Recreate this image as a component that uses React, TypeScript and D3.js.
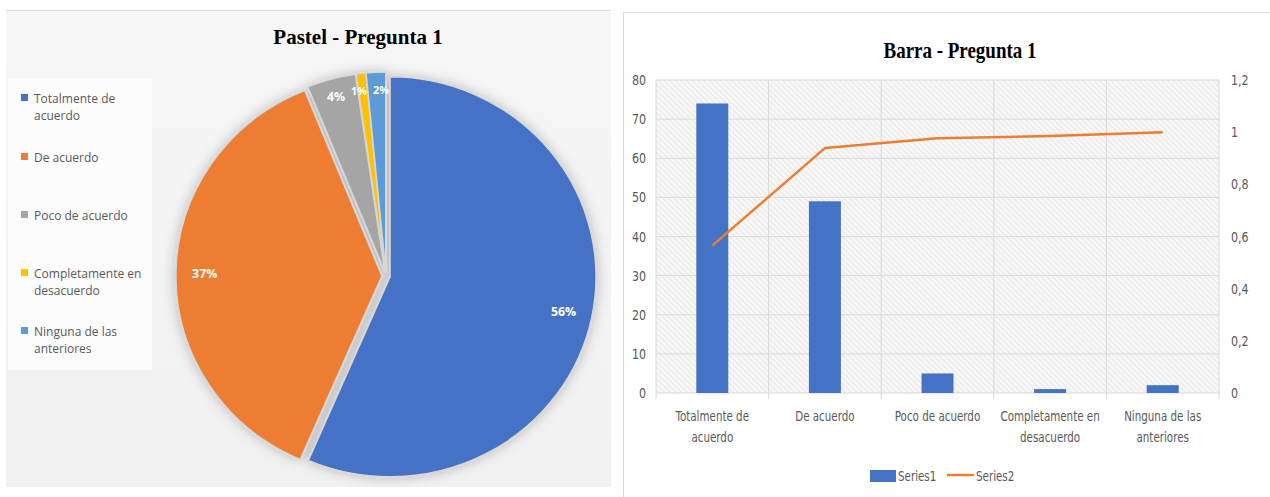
import React, { useEffect } from "react";
import * as d3 from "d3";

const categories = [
  "Totalmente de acuerdo",
  "De acuerdo",
  "Poco de acuerdo",
  "Completamente en desacuerdo",
  "Ninguna de las anteriores",
];
// wrapped labels as shown on the charts
const categoryLines = [
  ["Totalmente de", "acuerdo"],
  ["De acuerdo"],
  ["Poco de acuerdo"],
  ["Completamente en", "desacuerdo"],
  ["Ninguna de las", "anteriores"],
];
const series1 = [74, 49, 5, 1, 2];
const series2 = [0.565, 0.939, 0.977, 0.985, 1];
const pieColors = ["#4472c4", "#ed7d31", "#a5a5a5", "#ffc000", "#5b9bd5"];

const FONT = "'Open Sans', 'Liberation Sans', sans-serif";
const NARROW = "'DejaVu Sans Condensed', 'Liberation Sans Narrow', 'Open Sans', sans-serif";
const SERIF = "'Liberation Serif', 'DejaVu Serif', serif";
const TEXT_GRAY = "#595959";

const commaFmt = d3
  .formatLocale({ decimal: ",", thousands: ".", grouping: [3], currency: ["", ""] })
  .format("~g");

// squeezed text, the bar chart's labels are tall and narrow
function NText({
  x,
  y,
  anchor = "start",
  size = 14,
  sx = 0.82,
  children,
}: {
  x: number;
  y: number;
  anchor?: "start" | "middle" | "end";
  size?: number;
  sx?: number;
  children: React.ReactNode;
}) {
  return (
    <text
      transform={`translate(${x},${y}) scale(${sx},1)`}
      dy="0.35em"
      textAnchor={anchor}
      fontFamily={NARROW}
      fontSize={size}
      fill={TEXT_GRAY}
    >
      {children}
    </text>
  );
}

function PiePanel() {
  const cx = 386;
  const cy = 276;
  const R = 200;
  const total = d3.sum(series1);
  const pie = d3.pie<number>().sort(null).value((d) => d);
  const arcs = pie(series1);
  const arc = d3.arc<d3.PieArcDatum<number>>().innerRadius(0).outerRadius(R);

  const legendY = [99, 158, 216, 274, 332];
  // small nudges so the two thin-slice labels do not sit on each other
  const labelShift = [0, 0, 0, -4, 4];

  return (
    <g>
      <rect x={6} y={10} width={605} height={477} fill="url(#pieBg)" />
      <line x1={6} x2={611} y1={10.5} y2={10.5} stroke="#d9d9d9" />
      <text x={358} y={44} textAnchor="middle" fontFamily={SERIF} fontWeight="bold" fontSize={21} fill="#000">
        Pastel - Pregunta 1
      </text>

      {/* legend box */}
      <rect x={8} y={78} width={144} height={292} fill="#fcfcfc" />
      {categoryLines.map((lines, i) => (
        <g key={i}>
          <rect x={21} y={legendY[i] - 5} width={7} height={7} fill={pieColors[i]} />
          {lines.map((l, j) => (
            <text key={j} x={34} y={legendY[i] + j * 17} dy="0.35em" fontFamily={FONT} fontSize={12} fill={TEXT_GRAY}>
              {l}
            </text>
          ))}
        </g>
      ))}

      <g transform={`translate(${cx},${cy}) scale(1.03,1)`}>
        <g filter="url(#pieShadow)">
          {arcs.map((a, i) => {
            const mid = (a.startAngle + a.endAngle) / 2;
            const off = 4;
            return (
              <path
                key={i}
                d={arc(a) || ""}
                transform={`translate(${Math.sin(mid) * off},${-Math.cos(mid) * off})`}
                fill={pieColors[i]}
                stroke="#d6d6d6"
                strokeWidth={1.5}
              />
            );
          })}
        </g>
        {arcs.map((a, i) => {
          const mid = (a.startAngle + a.endAngle) / 2;
          const r = i < 2 ? R * 0.88 : R * 0.93;
          return (
            <text
              key={i}
              x={Math.sin(mid) * r + labelShift[i]}
              y={-Math.cos(mid) * r}
              dy="0.35em"
              textAnchor="middle"
              fontFamily={FONT}
              fontWeight="bold"
              fontSize={i < 3 ? 12 : 10.5}
              fill="#fff"
            >
              {Math.round((series1[i] / total) * 100)}%
            </text>
          );
        })}
      </g>
    </g>
  );
}

function BarPanel() {
  const x0 = 656;
  const x1 = 1219;
  const yTop = 80;
  const yBot = 393;

  const x = d3.scaleBand<string>().domain(categories).range([x0, x1]).paddingInner(0.716).paddingOuter(0.358);
  const yL = d3.scaleLinear().domain([0, 80]).range([yBot, yTop]);
  const yR = d3.scaleLinear().domain([0, 1.2]).range([yBot, yTop]);
  const step = x.step();

  const line = d3
    .line<number>()
    .x((_, i) => (x(categories[i]) || 0) + x.bandwidth() / 2)
    .y((d) => yR(d));

  const leftTicks = yL.ticks(8);
  const rightTicks = d3.range(0, 7).map((i) => +(i * 0.2).toFixed(1));

  return (
    <g>
      <rect x={623.5} y={12.5} width={660} height={490} fill="#fff" stroke="#d9d9d9" />
      <text
        x={960}
        y={58}
        textAnchor="middle"
        fontFamily={SERIF}
        fontWeight="bold"
        fontSize={24}
        fill="#000"
        textLength={153}
        lengthAdjust="spacingAndGlyphs"
      >
        Barra - Pregunta 1
      </text>

      <rect x={x0} y={yTop} width={x1 - x0} height={yBot - yTop} fill="url(#hatch)" />
      {leftTicks.map((t) => (
        <line key={t} x1={x0} x2={x1} y1={yL(t)} y2={yL(t)} stroke="#d9d9d9" strokeWidth={1} />
      ))}
      {d3.range(categories.length + 1).map((i) => (
        <line
          key={i}
          x1={x0 + i * step}
          x2={x0 + i * step}
          y1={yTop}
          y2={yBot + 6}
          stroke="#d9d9d9"
          strokeWidth={1}
        />
      ))}

      {leftTicks.map((t) => (
        <NText key={t} x={646} y={yL(t)} anchor="end" size={14.5} sx={0.85}>
          {t}
        </NText>
      ))}
      {rightTicks.map((t) => (
        <NText key={t} x={1231} y={yR(t)} size={14.5} sx={0.85}>
          {commaFmt(t)}
        </NText>
      ))}

      {series1.map((v, i) => (
        <rect
          key={i}
          x={x(categories[i])}
          y={yL(v)}
          width={x.bandwidth()}
          height={yBot - yL(v)}
          fill="#4472c4"
        />
      ))}

      <path d={line(series2) || ""} fill="none" stroke="#ed7d31" strokeWidth={2.5} strokeLinejoin="round" />

      {categoryLines.map((lines, i) =>
        lines.map((l, j) => (
          <NText key={`${i}-${j}`} x={(x(categories[i]) || 0) + x.bandwidth() / 2} y={416 + j * 21} anchor="middle">
            {l}
          </NText>
        ))
      )}

      {/* legend */}
      <rect x={870} y={470} width={26} height={12} fill="#4472c4" />
      <NText x={898} y={476}>
        Series1
      </NText>
      <line x1={947} x2={974} y1={475} y2={475} stroke="#ed7d31" strokeWidth={2.5} />
      <NText x={976} y={476}>
        Series2
      </NText>
    </g>
  );
}

export default function App() {
  useEffect(() => {
    document.body.style.margin = "0";
  }, []);

  return (
    <svg width={1270} height={497} style={{ display: "block", background: "#fff" }}>
      <defs>
        <linearGradient id="pieBg" x1="0" x2="0" y1="0" y2="1">
          <stop offset="0%" stopColor="#f6f6f6" />
          <stop offset="100%" stopColor="#f1f1f1" />
        </linearGradient>
        <pattern id="hatch" width={4} height={4} patternUnits="userSpaceOnUse" patternTransform="rotate(-45)">
          <rect width={4} height={4} fill="#f7f7f7" />
          <line x1={0} y1={0} x2={0} y2={4} stroke="#dcdcdc" strokeWidth={1.2} />
        </pattern>
        <filter id="pieShadow" x="-20%" y="-20%" width="140%" height="140%">
          <feDropShadow dx={0} dy={0} stdDeviation={6} floodColor="#000" floodOpacity={0.25} />
        </filter>
      </defs>
      <PiePanel />
      <BarPanel />
    </svg>
  );
}
